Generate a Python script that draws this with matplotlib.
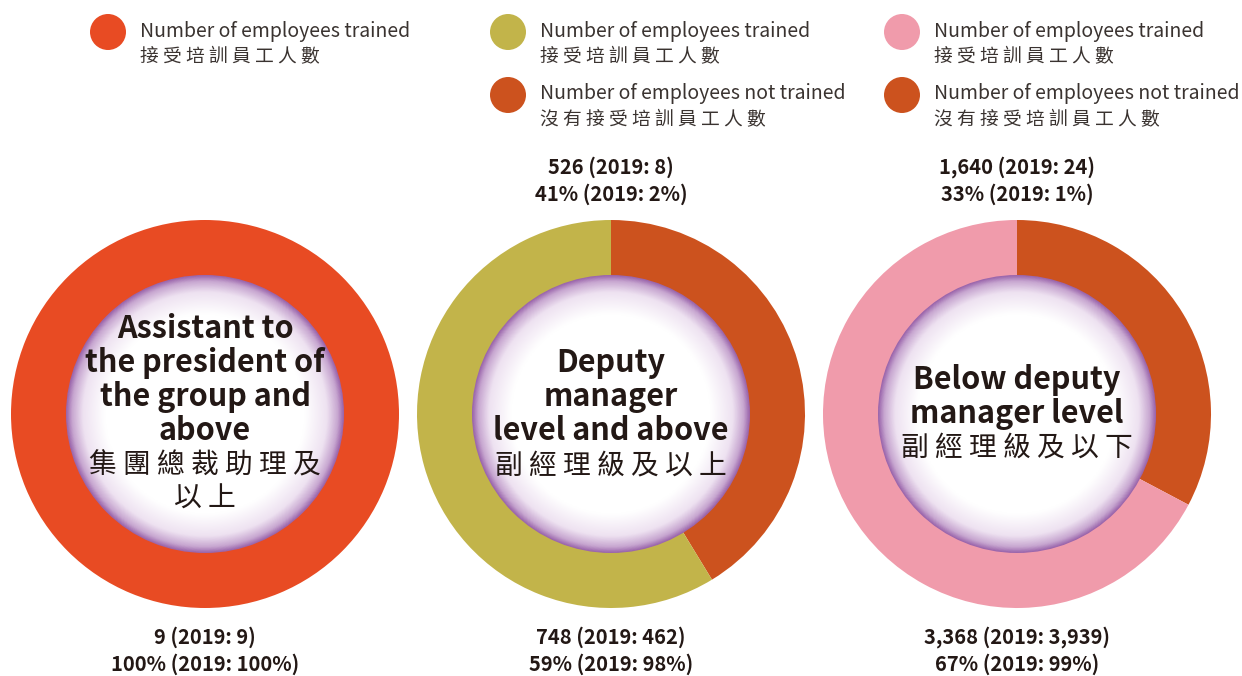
import numpy as np
import matplotlib.pyplot as plt
from matplotlib.patches import Circle
from matplotlib.colors import LinearSegmentedColormap

plt.rcParams['font.family'] = ['Noto Sans CJK TC', 'DejaVu Sans']

# ===========================
# data
# ===========================
groups_en = ["Assistant to\nthe president of\nthe group and\nabove",
             "Deputy\nmanager\nlevel and above",
             "Below deputy\nmanager level"]
groups_zh = [["集團總裁助理及", "以上"], ["副經理級及以上"], ["副經理級及以下"]]

trained = [9, 748, 3368]
trained_2019 = [9, 462, 3939]
trained_pct = [100, 59, 67]
trained_pct_2019 = [100, 98, 99]

not_trained = [0, 526, 1640]
not_trained_2019 = [0, 8, 24]
not_trained_pct = [0, 41, 33]
not_trained_pct_2019 = [0, 2, 1]

trained_colors = ["#E84B23", "#C2B44A", "#F09BAB"]
not_trained_color = "#CC521E"

legend_en = ["Number of employees trained", "Number of employees not trained"]
legend_zh = ["接受培訓員工人數", "沒有接受培訓員工人數"]

TXT = "#231815"
W, H = 1242, 676


def Y(py):
    return H - py


def spaced(s):
    return " ".join(s)


fig = plt.figure(figsize=(12.42, 6.76), dpi=100)
ax = fig.add_axes([0, 0, 1, 1])

centers_x = [205, 611, 1017]
legend_x = [108, 508, 902]
cy = 414
r_out, r_in = 194, 139

# 中心渐变
grad = LinearSegmentedColormap.from_list(
    "g", [(0, "#FFFFFF"), (0.72, "#FFFFFF"), (0.88, "#EEE2F1"),
          (0.96, "#C7A6D0"), (1.0, "#9B66AC")])
n = 400
gx, gy = np.meshgrid(np.linspace(-1, 1, n), np.linspace(-1, 1, n))
rr = np.sqrt(gx ** 2 + gy ** 2)

for i, cx in enumerate(centers_x):
    vals = [not_trained[i], trained[i]]
    ax.pie(vals, colors=[not_trained_color, trained_colors[i]], startangle=90,
           counterclock=False, radius=r_out, center=(cx, Y(cy)),
           wedgeprops=dict(width=r_out - r_in + 2, linewidth=0))

    im = ax.imshow(rr, cmap=grad, vmin=0, vmax=1,
                   extent=[cx - r_in, cx + r_in, Y(cy) - r_in, Y(cy) + r_in],
                   zorder=3, interpolation='bilinear')
    clip = Circle((cx, Y(cy)), r_in, transform=ax.transData)
    im.set_clip_path(clip)

    # center labels
    en_lines = groups_en[i].split("\n")
    zh_lines = groups_zh[i]
    lines = [(l, 'en') for l in en_lines] + [(l, 'zh') for l in zh_lines]
    step = 34
    y0 = cy - step * (len(lines) - 1) / 2
    for k, (l, kind) in enumerate(lines):
        if kind == 'en':
            ax.text(cx, Y(y0 + k * step), l, ha='center', va='center',
                    fontsize=22, fontweight='bold', color=TXT, zorder=5)
        else:
            ax.text(cx, Y(y0 + k * step), spaced(l), ha='center', va='center',
                    fontsize=20, fontweight='medium', color=TXT, zorder=5)

    # value labels
    ax.text(cx, Y(637), f"{trained[i]:,} (2019: {trained_2019[i]:,})",
            ha='center', va='center', fontsize=14.5, fontweight='bold', color=TXT)
    ax.text(cx, Y(664), f"{trained_pct[i]}% (2019: {trained_pct_2019[i]}%)",
            ha='center', va='center', fontsize=14.5, fontweight='bold', color=TXT)
    if not_trained[i] > 0:
        ax.text(cx, Y(167), f"{not_trained[i]:,} (2019: {not_trained_2019[i]:,})",
                ha='center', va='center', fontsize=14.5, fontweight='bold', color=TXT)
        ax.text(cx, Y(194), f"{not_trained_pct[i]}% (2019: {not_trained_pct_2019[i]}%)",
                ha='center', va='center', fontsize=14.5, fontweight='bold', color=TXT)

    # legend
    lx = legend_x[i]
    items = [(trained_colors[i], 0)]
    if not_trained[i] > 0:
        items.append((not_trained_color, 1))
    for j, (c, idx) in enumerate(items):
        ly = 32 + j * 63
        ax.add_patch(Circle((lx, Y(ly)), 18, color=c, lw=0))
        ax.text(lx + 32, Y(ly - 1), legend_en[idx], ha='left', va='center',
                fontsize=14, color="#3A3330", fontweight='light')
        ax.text(lx + 32, Y(ly + 25), spaced(legend_zh[idx]), ha='left', va='center',
                fontsize=13.5, color="#3A3330", fontweight='light')

ax.set_xlim(0, W)
ax.set_ylim(0, H)
ax.set_aspect('auto')
ax.axis('off')

fig.savefig("out.png", dpi=100)
